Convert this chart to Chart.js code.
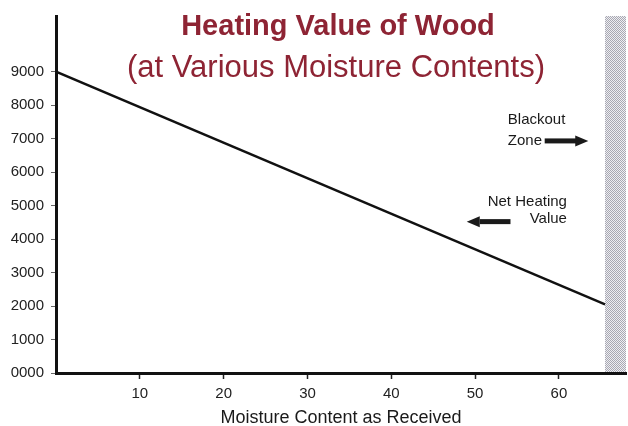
<!DOCTYPE html>
<html>
<head>
<meta charset="utf-8">
<script src="https://cdn.jsdelivr.net/npm/chart.js@4/dist/chart.umd.min.js"></script>
<style>
  html, body { margin: 0; padding: 0; background: #fff; }
  #wrap { width: 628px; height: 426px; }
</style>
</head>
<body>
<div id="wrap"><canvas id="chart" width="628" height="426"></canvas></div>
<script>
// Data
const moisture = [0, 65.5]
const heatingValue = [9000, 2050]
const yTicks = [0, 1000, 2000, 3000, 4000, 5000, 6000, 7000, 8000, 9000]
const xTicks = [10, 20, 30, 40, 50, 60]
const blackoutStart = 65.5

const titleText = "Heating Value of Wood"
const subtitleText = "(at Various Moisture Contents)"
const xTitle = "Moisture Content as Received"

const SANS = "'Liberation Sans', Arial, sans-serif"
const TITLE_RED = "#8e2434"

// Notes on the plot, placed in data units
const notes = [
  { lines: ["Blackout", "Zone"], align: "left", x: 53.9, y: [7550, 6930], arrow: { from: 58.3, to: 63.5, y: 6930 } },
  { lines: ["Net Heating", "Value"], align: "right", x: 60.95, y: [5120, 4590], arrow: { from: 54.1, to: 49.0, y: 4520 } },
]

function makeStipple(ctx) {
  const c = document.createElement("canvas")
  c.width = 2
  c.height = 2
  const p = c.getContext("2d")
  p.fillStyle = "#eeeef2"
  p.fillRect(0, 0, 2, 2)
  p.fillStyle = "#a8a8b2"
  p.fillRect(0, 0, 1, 1)
  p.fillRect(1, 1, 1, 1)
  return ctx.createPattern(c, "repeat")
}

function drawArrow(ctx, x1, x2, y) {
  const dir = x2 > x1 ? 1 : -1
  const head = 13
  ctx.save()
  ctx.fillStyle = "#1a1a1a"
  ctx.fillRect(Math.min(x1, x2 - dir * head), y - 2.5, Math.abs(x2 - x1) - head + 1, 5)
  ctx.beginPath()
  ctx.moveTo(x2, y)
  ctx.lineTo(x2 - dir * head, y - 5.5)
  ctx.lineTo(x2 - dir * head, y + 5.5)
  ctx.closePath()
  ctx.fill()
  ctx.restore()
}

const blackoutPlugin = {
  id: "blackout",
  beforeDraw(chart) {
    const { ctx, chartArea, scales } = chart
    const x0 = scales.x.getPixelForValue(blackoutStart)
    ctx.save()
    ctx.fillStyle = makeStipple(ctx)
    ctx.fillRect(x0, chartArea.top, chartArea.right - x0, chartArea.bottom - chartArea.top)
    ctx.restore()
  },
}

const textPlugin = {
  id: "texts",
  afterDraw(chart) {
    const { ctx, scales } = chart
    ctx.save()
    // title
    ctx.fillStyle = TITLE_RED
    ctx.textAlign = "center"
    ctx.textBaseline = "middle"
    ctx.font = "bold 29px " + SANS
    ctx.fillText(titleText, 338, 27)
    ctx.font = "31px " + SANS
    ctx.fillText(subtitleText, 336, 68)

    // notes with arrows
    ctx.fillStyle = "#1a1a1a"
    ctx.font = "15px " + SANS
    notes.forEach((n) => {
      ctx.textAlign = n.align
      const x = scales.x.getPixelForValue(n.x)
      n.lines.forEach((line, i) => {
        ctx.fillText(line, x, scales.y.getPixelForValue(n.y[i]))
      })
      const a = n.arrow
      drawArrow(ctx, scales.x.getPixelForValue(a.from), scales.x.getPixelForValue(a.to), scales.y.getPixelForValue(a.y))
    })
    ctx.restore()
  },
}

new Chart(document.getElementById("chart"), {
  type: "line",
  data: {
    datasets: [
      {
        label: "Net Heating Value",
        data: moisture.map((m, i) => ({ x: m, y: heatingValue[i] })),
        borderColor: "#111",
        borderWidth: 2.4,
        pointRadius: 0,
        tension: 0,
      },
    ],
  },
  options: {
    responsive: false,
    animation: false,
    layout: { padding: { top: 13, right: 2, left: 0, bottom: 0 } },
    plugins: {
      legend: { display: false },
      tooltip: { enabled: false },
    },
    scales: {
      x: {
        type: "linear",
        min: 0,
        max: 68,
        afterBuildTicks: (scale) => {
          scale.ticks = xTicks.map((v) => ({ value: v }))
        },
        afterFit: (scale) => {
          scale.height = 53
        },
        border: { color: "#111", width: 3 },
        grid: { drawOnChartArea: false, drawTicks: true, tickLength: 6, tickColor: "#222", tickWidth: 1.5 },
        ticks: {
          color: "#222",
          padding: 6,
          maxRotation: 0,
          font: { family: SANS, size: 15 },
        },
        title: {
          display: true,
          text: xTitle,
          color: "#1a1a1a",
          padding: { top: 0, bottom: -3 },
          font: { family: SANS, size: 18 },
        },
      },
      y: {
        min: 0,
        max: 10660,
        afterBuildTicks: (scale) => {
          scale.ticks = yTicks.map((v) => ({ value: v }))
        },
        afterFit: (scale) => {
          scale.width = 56
        },
        border: { color: "#111", width: 3 },
        grid: { drawOnChartArea: false, drawTicks: true, tickLength: 5, tickColor: "#666", tickWidth: 1 },
        ticks: {
          color: "#222",
          padding: 7,
          font: { family: SANS, size: 15 },
          callback: (v) => (v === 0 ? "0000" : String(v)),
        },
      },
    },
  },
  plugins: [blackoutPlugin, textPlugin],
})
</script>
</body>
</html>
